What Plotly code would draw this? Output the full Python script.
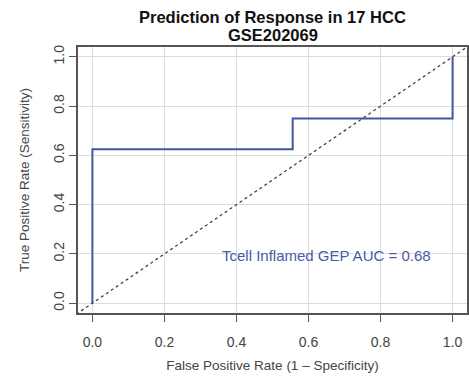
import plotly.graph_objects as go

# ROC step curve for the T-cell inflamed GEP score (8 responders, 9 non-responders)
fpr = [0.0, 0.0, 0.556, 0.556, 1.0, 1.0]
tpr = [0.0, 0.625, 0.625, 0.75, 0.75, 1.0]
auc_label = "Tcell Inflamed GEP AUC = 0.68"

# Reference diagonal (random classifier)
diag = [-0.1, 1.1]

tick_vals = [0.0, 0.2, 0.4, 0.6, 0.8, 1.0]
tick_text = ["0.0", "0.2", "0.4", "0.6", "0.8", "1.0"]

title_lines = ["Prediction of Response in 17 HCC", "GSE202069"]

curve_color = "#4355a5"
font_family = "Liberation Sans, Arial, Helvetica, sans-serif"

fig = go.Figure()

fig.add_trace(go.Scatter(
    x=diag, y=diag, mode="lines",
    line=dict(color="#444444", width=1.3, dash="3px,3px"),
    hoverinfo="skip", showlegend=False,
))

fig.add_trace(go.Scatter(
    x=fpr, y=tpr, mode="lines",
    line=dict(color=curve_color, width=2, shape="linear"),
    showlegend=False,
))

fig.add_annotation(
    x=0.65, y=0.195, xref="x", yref="y",
    text=auc_label, showarrow=False,
    font=dict(family=font_family, size=15, color="#4a5aa8"),
)

# Two-line bold title, placed line by line for tighter spacing
for line, ypos in zip(title_lines, [1.113, 1.045]):
    fig.add_annotation(
        x=0.5, y=ypos, xref="paper", yref="paper",
        xanchor="center", yanchor="middle",
        text=f"<b>{line}</b>", showarrow=False,
        font=dict(family=font_family, size=16.5, color="#111111"),
    )

axis_common = dict(
    range=[-0.04, 1.04],
    tickvals=tick_vals, ticktext=tick_text,
    showgrid=True, gridcolor="#dcdcdc", gridwidth=1,
    zeroline=False,
    showline=True, linecolor="#555555", linewidth=1.5, mirror=True,
    ticks="outside", ticklen=7, tickwidth=1.2, tickcolor="#555555",
    tickfont=dict(family=font_family, size=14, color="#444444"),
)

fig.update_layout(
    width=469, height=380,
    margin=dict(l=78, r=0, t=47, b=67),
    paper_bgcolor="white", plot_bgcolor="white",
    xaxis=dict(
        **axis_common,
        ticklabelstandoff=8,
        title=dict(text="False Positive Rate (1 – Specificity)",
                   font=dict(family=font_family, size=13.5, color="#444444"),
                   standoff=12),
    ),
    yaxis=dict(
        **axis_common,
        tickangle=-90,
        ticklabelstandoff=0,
        title=dict(text="True Positive Rate (Sensitivity)",
                   font=dict(family=font_family, size=13.5, color="#444444"),
                   standoff=18),
    ),
)

fig.write_html("out.html")
